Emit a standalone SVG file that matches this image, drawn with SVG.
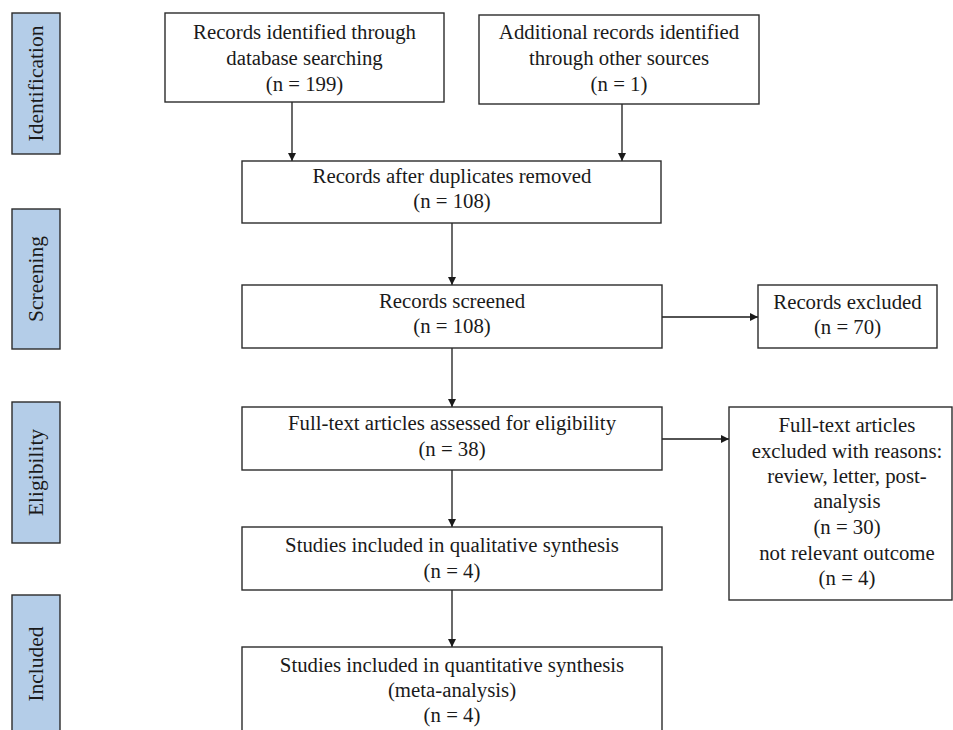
<svg xmlns="http://www.w3.org/2000/svg" width="953" height="730" viewBox="0 0 953 730">
<style>
.box{fill:#fff;stroke:#2b2b2b;stroke-width:1.4}
.side{fill:#b4cde8;stroke:#2b2b2b;stroke-width:1.4}
text{font-family:"Liberation Serif","Times New Roman",serif;font-size:20.8px;fill:#1a1a1a;text-anchor:middle}
.vt{font-size:21.5px}
.conn{stroke:#1a1a1a;stroke-width:1.3;fill:none;marker-end:url(#ah)}
</style>
<defs>
<marker id="ah" viewBox="0 0 10 10" refX="10" refY="5" markerWidth="8" markerHeight="8" markerUnits="userSpaceOnUse" orient="auto">
<path d="M0,0 L10,5 L0,10 z" fill="#1a1a1a"/>
</marker>
</defs>
<rect width="953" height="730" fill="#fff"/>
<g id="phase-identification"><rect class="side" x="12" y="13" width="48" height="141"/><text class="vt" transform="translate(43,83.5) rotate(-90)">Identification</text></g>
<g id="phase-screening"><rect class="side" x="12" y="209" width="48" height="140"/><text class="vt" transform="translate(43,279) rotate(-90)">Screening</text></g>
<g id="phase-eligibility"><rect class="side" x="12" y="402" width="48" height="141"/><text class="vt" transform="translate(43,472.5) rotate(-90)">Eligibility</text></g>
<g id="phase-included"><rect class="side" x="12" y="595" width="48" height="150"/><text class="vt" transform="translate(43,664) rotate(-90)">Included</text></g>
<g id="connectors">
<line class="conn" x1="292" y1="102" x2="292" y2="161"/>
<line class="conn" x1="622" y1="104" x2="622" y2="161"/>
<line class="conn" x1="452" y1="223" x2="452" y2="285"/>
<line class="conn" x1="662" y1="317" x2="758" y2="317"/>
<line class="conn" x1="452" y1="348" x2="452" y2="407"/>
<line class="conn" x1="662" y1="439" x2="729" y2="439"/>
<line class="conn" x1="452" y1="470" x2="452" y2="527"/>
<line class="conn" x1="452" y1="590" x2="452" y2="647"/>
</g>
<g id="n-database"><rect class="box" x="165" y="13" width="279" height="89"/><text x="304.5" y="39">Records identified through</text><text x="304.5" y="65">database searching</text><text x="304.5" y="91">(n = 199)</text></g>
<g id="n-other"><rect class="box" x="479" y="15" width="280" height="89"/><text x="619" y="39">Additional records identified</text><text x="619" y="65">through other sources</text><text x="619" y="91">(n = 1)</text></g>
<g id="n-duplicates"><rect class="box" x="242" y="161" width="419" height="62"/><text x="452" y="183">Records after duplicates removed</text><text x="452" y="208">(n = 108)</text></g>
<g id="n-screened"><rect class="box" x="242" y="285" width="420" height="63"/><text x="452" y="308">Records screened</text><text x="452" y="333">(n = 108)</text></g>
<g id="n-excluded"><rect class="box" x="758" y="285" width="179" height="63"/><text x="847.5" y="309">Records excluded</text><text x="847.5" y="334">(n = 70)</text></g>
<g id="n-fulltext"><rect class="box" x="242" y="407" width="420" height="63"/><text x="452" y="430">Full-text articles assessed for eligibility</text><text x="452" y="456">(n = 38)</text></g>
<g id="n-ft-excluded"><rect class="box" x="729" y="407" width="223" height="193"/>
<text x="847" y="432">Full-text articles</text><text x="847" y="458">excluded with reasons:</text><text x="847" y="483">review, letter, post-</text><text x="847" y="508">analysis</text><text x="847" y="534">(n = 30)</text><text x="847" y="560">not relevant outcome</text><text x="847" y="585">(n = 4)</text></g>
<g id="n-qualitative"><rect class="box" x="242" y="527" width="420" height="63"/><text x="452" y="552">Studies included in qualitative synthesis</text><text x="452" y="578">(n = 4)</text></g>
<g id="n-quantitative"><rect class="box" x="242" y="647" width="420" height="100"/><text x="452" y="672">Studies included in quantitative synthesis</text><text x="452" y="697">(meta-analysis)</text><text x="452" y="722">(n = 4)</text></g>
</svg>
